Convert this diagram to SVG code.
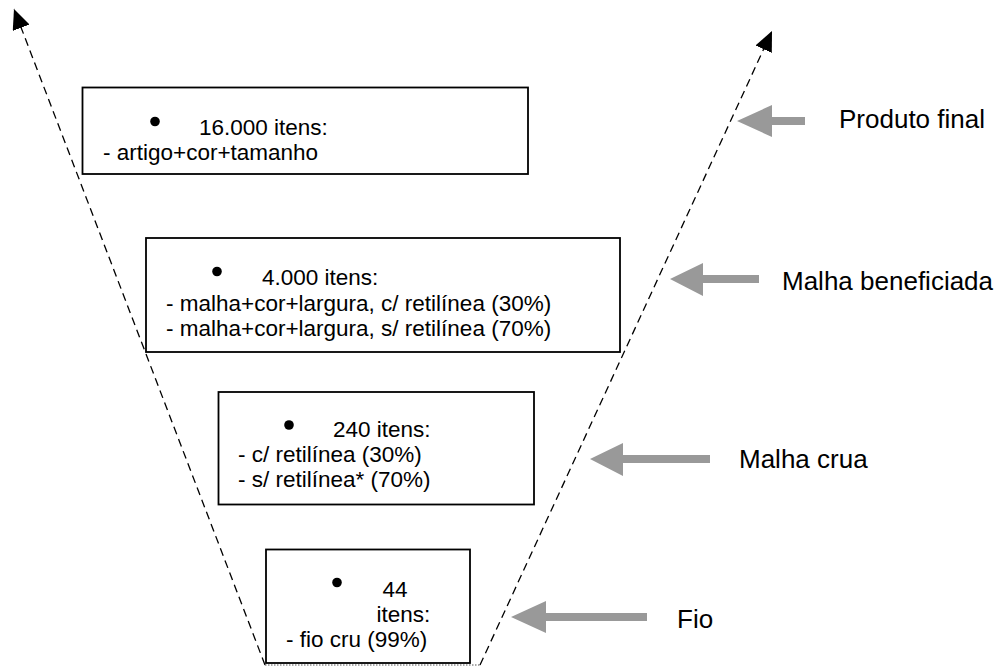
<svg xmlns="http://www.w3.org/2000/svg" width="1007" height="668" viewBox="0 0 1007 668">
  <style>
    .box { fill: #ffffff; stroke: #000000; stroke-width: 1.8; }
    .txt { font-family: "Liberation Sans", Arial, sans-serif; font-size: 22.5px; fill: #000000; }
    .lbl { font-family: "Liberation Sans", Arial, sans-serif; font-size: 26px; fill: #000000; }
    .dash { fill: none; stroke: #000000; stroke-width: 1.3; stroke-dasharray: 8 5; }
    .base { fill: none; stroke: #555555; stroke-width: 1.2; stroke-dasharray: 1.5 1.5; }
    .gray { fill: #999999; }
  </style>
  <defs>
    <marker id="tip" viewBox="0 0 20 18" refX="20" refY="9" markerWidth="20" markerHeight="18" markerUnits="userSpaceOnUse" orient="auto">
      <path d="M0,0 L20,9 L0,18 Z" fill="#000000"/>
    </marker>
  </defs>
  <rect width="1007" height="668" fill="#ffffff"/>

  <!-- funnel sides and base -->
  <g id="connectors">
    <line class="dash" x1="265" y1="665" x2="14" y2="9" marker-end="url(#tip)"/>
    <line class="dash" x1="480" y1="665" x2="772" y2="31" marker-end="url(#tip)"/>
    <line class="base" x1="265" y1="665" x2="480" y2="665"/>
  </g>

  <!-- level 1: finished product -->
  <g id="node-produto">
    <rect class="box" x="82.5" y="87.5" width="445.5" height="86.5"/>
    <circle cx="155" cy="121.5" r="4.8"/>
    <text class="txt" x="199" y="135">16.000 itens:</text>
    <text class="txt" x="103" y="159.5">- artigo+cor+tamanho</text>
  </g>

  <!-- level 2: finished knit -->
  <g id="node-malha-beneficiada">
    <rect class="box" x="146" y="238" width="474" height="114"/>
    <circle cx="217" cy="271.5" r="4.8"/>
    <text class="txt" x="262" y="285">4.000 itens:</text>
    <text class="txt" x="166" y="310.5">- malha+cor+largura, c/ retilínea (30%)</text>
    <text class="txt" x="166" y="335.5">- malha+cor+largura, s/ retilínea (70%)</text>
  </g>

  <!-- level 3: raw knit -->
  <g id="node-malha-crua">
    <rect class="box" x="218.5" y="392" width="315.5" height="112.5"/>
    <circle cx="289" cy="425" r="4.8"/>
    <text class="txt" x="333" y="437">240 itens:</text>
    <text class="txt" x="238" y="462">- c/ retilínea (30%)</text>
    <text class="txt" x="238" y="487">- s/ retilínea* (70%)</text>
  </g>

  <!-- level 4: yarn -->
  <g id="node-fio">
    <rect class="box" x="266" y="549.5" width="204" height="113.5"/>
    <circle cx="337" cy="582.5" r="4.8"/>
    <text class="txt" x="382.5" y="597">44</text>
    <text class="txt" x="376.5" y="622">itens:</text>
    <text class="txt" x="286" y="647">- fio cru (99%)</text>
  </g>

  <!-- side pointers with stage names -->
  <g id="label-produto-final">
    <path class="gray" d="M737,121 L772,105 L772,117 L805,117 L805,125 L772,125 L772,137 Z"/>
    <text class="lbl" x="839" y="128">Produto final</text>
  </g>
  <g id="label-malha-beneficiada">
    <path class="gray" d="M670,279 L703,263 L703,275 L759,275 L759,283 L703,283 L703,296 Z"/>
    <text class="lbl" x="782" y="290">Malha beneficiada</text>
  </g>
  <g id="label-malha-crua">
    <path class="gray" d="M590,459 L623,443 L623,455 L710,455 L710,463 L623,463 L623,476 Z"/>
    <text class="lbl" x="739" y="468">Malha crua</text>
  </g>
  <g id="label-fio">
    <path class="gray" d="M511,617 L546,601 L546,613 L647,613 L647,621 L546,621 L546,633 Z"/>
    <text class="lbl" x="677" y="628">Fio</text>
  </g>
</svg>
